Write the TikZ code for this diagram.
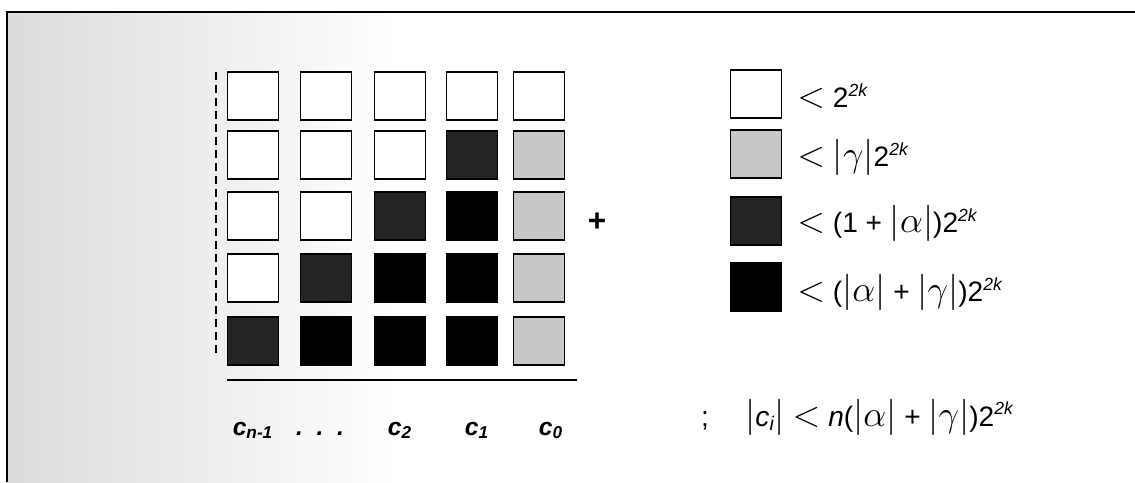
\documentclass[tikz,border=0pt]{standalone}
\usepackage{fontspec}
\setmainfont{Liberation Sans}
\usetikzlibrary{positioning}

\newcommand{\lessop}{{\fontsize{20}{20}\selectfont$<$}}
\newcommand{\absv}[1]{{\fontsize{20}{20}\selectfont$|#1|$}}
\newcommand{\pwr}{2\textsuperscript{\fontsize{10}{10}\selectfont\itshape 2k}}

\begin{document}
\begin{tikzpicture}[
    cell/.style={draw, line width=0.9pt, minimum width=1.02cm, minimum height=0.96cm, inner sep=0pt},
    wcell/.style={cell, fill=white},
    gcell/.style={cell, fill=black!22},
    dcell/.style={cell, fill=black!86},
    bcell/.style={cell, fill=black},
    key/.style={font=\fontsize{16}{19}\selectfont, anchor=base west, inner sep=0pt},
    digit/.style={font=\fontsize{14}{17}\selectfont\bfseries\itshape, anchor=base, inner sep=0pt},
]
    \useasboundingbox (0,0) rectangle (22.7,9.64);

    % Frame
    \shade[left color=black!14, right color=white] (0.14,0) rectangle (8,9.40);
    \draw[line width=1.1pt] (0.14,0) -- (0.14,9.40) -- (22.7,9.40);

    % Digit cells (row 1 = top)
    \node[wcell] (r1c1) at (5.06,7.72) {};
    \node[wcell] (r1c2) at (6.52,7.72) {};
    \node[wcell] (r1c3) at (8.00,7.72) {};
    \node[wcell] (r1c4) at (9.44,7.72) {};
    \node[wcell] (r1c5) at (10.78,7.72) {};

    \node[wcell] (r2c1) at (5.06,6.54) {};
    \node[wcell] (r2c2) at (6.52,6.54) {};
    \node[wcell] (r2c3) at (8.00,6.54) {};
    \node[dcell] (r2c4) at (9.44,6.54) {};
    \node[gcell] (r2c5) at (10.78,6.54) {};

    \node[wcell] (r3c1) at (5.06,5.32) {};
    \node[wcell] (r3c2) at (6.52,5.32) {};
    \node[dcell] (r3c3) at (8.00,5.32) {};
    \node[bcell] (r3c4) at (9.44,5.32) {};
    \node[gcell] (r3c5) at (10.78,5.32) {};

    \node[wcell] (r4c1) at (5.06,4.08) {};
    \node[dcell] (r4c2) at (6.52,4.08) {};
    \node[bcell] (r4c3) at (8.00,4.08) {};
    \node[bcell] (r4c4) at (9.44,4.08) {};
    \node[gcell] (r4c5) at (10.78,4.08) {};

    \node[dcell] (r5c1) at (5.06,2.82) {};
    \node[bcell] (r5c2) at (6.52,2.82) {};
    \node[bcell] (r5c3) at (8.00,2.82) {};
    \node[bcell] (r5c4) at (9.44,2.82) {};
    \node[gcell] (r5c5) at (10.78,2.82) {};

    % Dashed edge and sum rule
    \coordinate (dtop) at (4.32,8.20);
    \coordinate (dbot) at (4.32,2.50);
    \draw[line width=1.2pt, dash pattern=on 0.16cm off 0.1cm] (dtop) -- (dbot);
    \coordinate (rulel) at (4.54,2.04);
    \coordinate (ruler) at (11.54,2.04);
    \draw[line width=1.1pt] (rulel) -- (ruler);

    % Column labels
    \node[digit] (cn) at (5.06,0.94) {c\textsubscript{n-1}};
    \node[digit] (dots) at (6.40,0.94) {.\ \ .\ \ .};
    \node[digit] (c2) at (8.00,0.94) {c\textsubscript{2}};
    \node[digit] (c1) at (9.54,0.94) {c\textsubscript{1}};
    \node[digit] (c0) at (11.02,0.94) {c\textsubscript{0}};

    \node[font=\fontsize{18}{20}\selectfont\bfseries] (plus) at (11.94,5.20) {+};

    % Legend
    \node[wcell] (key1) at (15.12,7.76) {};
    \node[key] (lab1) at (15.94,7.48) {\lessop{} \pwr};
    \node[gcell] (key2) at (15.12,6.56) {};
    \node[key] (lab2) at (15.94,6.30) {\lessop{} \absv{\gamma}\pwr};
    \node[dcell] (key3) at (15.12,5.22) {};
    \node[key] (lab3) at (15.94,4.98) {\lessop{} (1 + \absv{\alpha})\pwr};
    \node[bcell] (key4) at (15.12,3.90) {};
    \node[key] (lab4) at (15.94,3.60) {\lessop{} (\absv{\alpha} + \absv{\gamma})\pwr};

    % Bound on each column sum
    \node[key, anchor=base] (semi) at (14.10,1.12) {;};
    \node[key] (bound) at (14.90,1.12) {\absv{\mbox{\fontsize{16}{16}\selectfont\itshape c\textsubscript{i}}} \lessop{} \textit{n}(\absv{\alpha} + \absv{\gamma})\pwr};
\end{tikzpicture}
\end{document}
